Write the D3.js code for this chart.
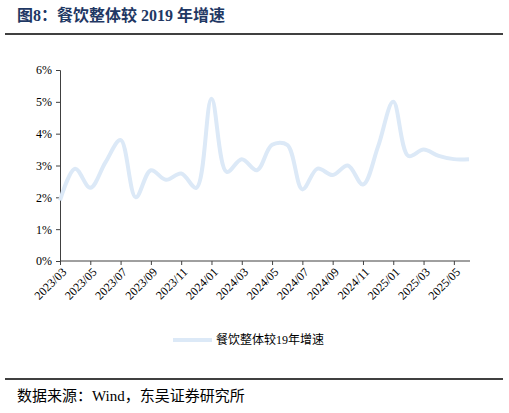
<!DOCTYPE html>
<html><head><meta charset="utf-8">
<script src="https://cdn.jsdelivr.net/npm/d3@7"></script>
<style>body{margin:0;background:#fff}</style>
</head><body>
<script>
var months = ["2023/03","2023/04","2023/05","2023/06","2023/07","2023/08","2023/09","2023/10","2023/11","2023/12",
  "2024/01","2024/02","2024/03","2024/04","2024/05","2024/06","2024/07","2024/08","2024/09","2024/10","2024/11","2024/12",
  "2025/01","2025/02","2025/03","2025/04","2025/05","2025/06"];
var growth = [1.9,2.9,2.3,3.1,3.8,2.0,2.85,2.55,2.75,2.3,
  5.1,2.8,3.2,2.85,3.65,3.65,2.25,2.9,2.7,3.0,2.4,3.6,
  5.0,3.3,3.5,3.3,3.2,3.2];
var yTicks = [0,1,2,3,4,5,6];
var seriesName = "餐饮整体较19年增速";

var w = 509, h = 413;
var serif = "'Liberation Serif','Noto Sans CJK SC',serif";
var svg = d3.select("body").append("svg").attr("width", w).attr("height", h);

// title
svg.append("text").attr("x", 17).attr("y", 21)
  .attr("fill", "#1f3864").attr("font-weight", "bold").attr("font-size", 16)
  .attr("font-family", serif).text("图8：餐饮整体较 2019 年增速");
svg.append("line").attr("x1", 5).attr("x2", 503).attr("y1", 34).attr("y2", 34)
  .attr("stroke", "#000").attr("stroke-width", 1.5);

var xScale = d3.scalePoint().domain(months).range([60, 469]);
var yScale = d3.scaleLinear().domain([0, 6]).range([261, 70]);

var xAxis = d3.axisBottom(xScale)
  .tickValues(months.filter(function(d, i) { return i % 2 == 0; }))
  .tickSizeOuter(0).tickSize(4);
var yAxis = d3.axisLeft(yScale).tickValues(yTicks)
  .tickFormat(function(d) { return d + "%"; }).tickSizeOuter(0).tickSize(4);

var gx = svg.append("g").attr("transform", "translate(0,261)").call(xAxis);
gx.select(".domain").attr("d", "M60,0H470");
gx.selectAll("text").attr("transform", "rotate(-45)").attr("text-anchor", "end")
  .attr("dx", "-0.3em").attr("dy", "0.5em");
var gy = svg.append("g").attr("transform", "translate(60,0)").call(yAxis);
gy.selectAll("text").attr("dx", "-1");
[gx, gy].forEach(function(g) {
  g.selectAll("text").attr("font-family", serif).attr("font-size", 12).attr("fill", "#000");
  g.selectAll("line,.domain").attr("stroke", "#404040");
});

var line = d3.line()
  .x(function(d, i) { return xScale(months[i]); })
  .y(function(d) { return yScale(d); })
  .curve(d3.curveCatmullRom.alpha(0.5));
svg.append("path").datum(growth).attr("d", line)
  .attr("fill", "none").attr("stroke", "#dce9f7").attr("stroke-width", 4);

// legend
svg.append("line").attr("x1", 173).attr("x2", 212).attr("y1", 340).attr("y2", 340)
  .attr("stroke", "#dce9f7").attr("stroke-width", 4);
svg.append("text").attr("x", 216).attr("y", 344).attr("font-size", 12)
  .attr("font-family", serif).text(seriesName);

svg.append("line").attr("x1", 5).attr("x2", 503).attr("y1", 379).attr("y2", 379)
  .attr("stroke", "#000").attr("stroke-width", 1.5);
svg.append("text").attr("x", 17).attr("y", 401).attr("font-size", 15)
  .attr("font-family", serif).text("数据来源：Wind，东吴证券研究所");
</script>
</body></html>
